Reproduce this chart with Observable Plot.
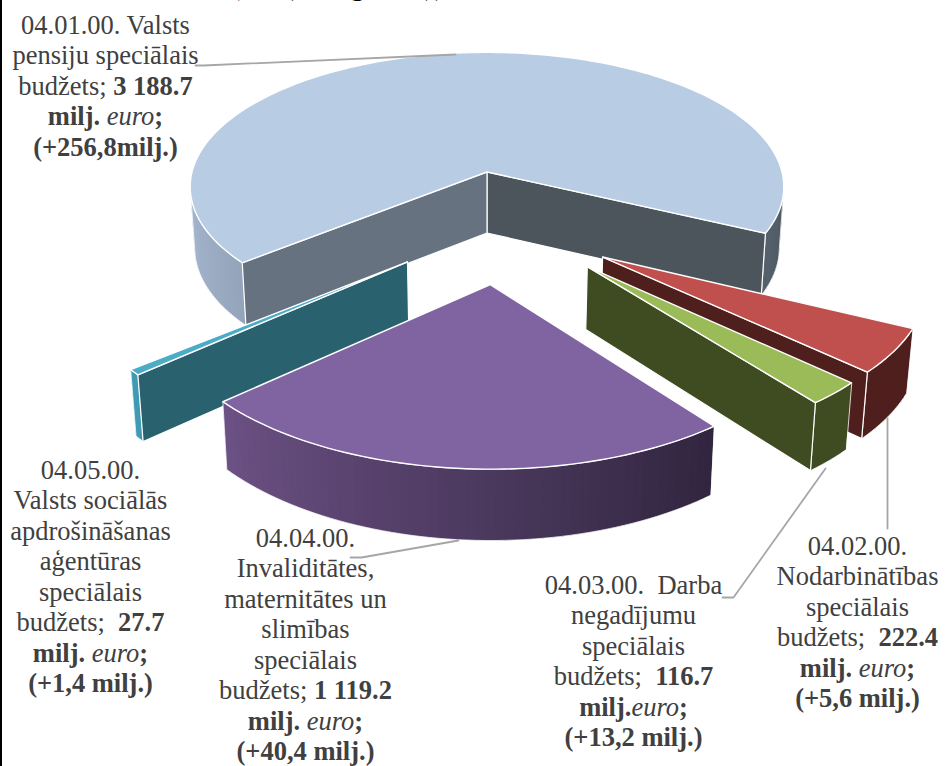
<!DOCTYPE html>
<html>
<head>
<meta charset="utf-8">
<script src="https://cdn.jsdelivr.net/npm/d3@7"></script>
<script src="https://cdn.jsdelivr.net/npm/@observablehq/plot@0.6"></script>
<style>html,body{margin:0;padding:0;background:#fff}svg{display:block}</style>
</head>
<body>
<div id="chart"></div>
<script>
// Data
const codes = ["04.01.00.", "04.02.00.", "04.03.00.", "04.04.00.", "04.05.00."];
const values = [3188.7, 222.4, 116.7, 1119.2, 27.7];

// Colours per slice
const topColors = ["#b8cce4", "#c0504d", "#9bbb59", "#8064a2", "#4bacc6"];
const wallHigh = ["#a6b8d0", "#4f1f1d", "#3f4b21", "#6c5185", "#3f9ab3"];
const wallLow = ["#4b5761", "#4f1f1d", "#3f4b21", "#30253e", "#3f9ab3"];
const startFace = ["#66727f", null, null, null, "#2a616e"];
const endFace = ["#4c545c", "#4f1f1d", "#3f4b21", null, null];

// Pie view settings (3-D pie: rotation, tilt, perspective, explosion)
const firstAngle = 140.5, radius = 295, tilt = 0.45, persp = 0.11, centerX = 486.5, centerY = 171.5;
const explodeX = [0, 108, 93, 3, -74];
const explodeY = [0, 176.5, 195, 229, 186];
const radiusScale = [1, 1.015, 1.01, 1.02, 1.02];
const drawOrder = [0, 4, 1, 2, 3];

// Label text
const labelLines = [
  ["04.01.00. Valsts", "pensiju speciālais", "budžets; **3 188.7**", "**milj.** _euro_**;**", "**(+256,8milj.)**"],
  ["04.02.00.", "Nodarbinātības", "speciālais", "budžets;\u00a0 **222.4**", "**milj.** _euro_**;**", "**(+5,6 milj.)**"],
  ["04.03.00.\u00a0 Darba", "negadījumu", "speciālais", "budžets;\u00a0 **116.7**", "**milj.**_euro_**;**", "**(+13,2 milj.)**"],
  ["04.04.00.", "Invaliditātes,", "maternitātes un", "slimības", "speciālais", "budžets; **1 119.2**", "**milj.** _euro_**;**", "**(+40,4 milj.)**"],
  ["04.05.00.", "Valsts sociālās", "apdrošināšanas", "aģentūras", "speciālais", "budžets;\u00a0 **27.7**", "**milj.** _euro_**;**", "**(+1,4 milj.)**"]
];
const labelX = [105, 857, 633, 305, 90];
const labelY = [33, 554, 593, 546, 478];
const lineStep = 30.5;

// Leader lines from slice to label
const leaders = [
  [[455, 54], [203, 65], [195, 65]],
  [[887, 418], [887, 528]],
  [[825, 468], [733, 597], [722, 597]],
  [[458, 540], [361, 557], [350, 557]]
];

// Cropped title remnants at the very top of the picture
const titleGlyphs = ["(", ")", "g", ")", ")"];
const titleGlyphX = [235, 295, 357, 429, 439];

// Geometry from the values
const total = d3.sum(values);
let running = firstAngle;
const slices = values.map((v, i) => {
  const start = running;
  running += v / total * 360;
  return {i, start, end: running};
});
const rad = a => a * Math.PI / 180;
function pt(i, a, r, bottom) {
  const rr = r * radiusScale[i];
  const X = explodeX[i] + rr * Math.cos(rad(a));
  const Y = explodeY[i] + rr * Math.sin(rad(a));
  const p = 1 / (1 - persp * Y / radius);
  if (!bottom) return {x: centerX + X * p, y: centerY + tilt * Y * p};
  const e = p - 1;
  return {x: centerX + 0.985 * X * p, y: centerY + tilt * Y * p + 61 + 15 * e + 110 * e * e};
}
function angles(a0, a1) {
  const out = [], n = Math.max(1, Math.ceil((a1 - a0) / 1.5));
  for (let k = 0; k <= n; k++) out.push(a0 + (a1 - a0) * k / n);
  return out;
}
const silhouette = Math.sin(rad(6.4));

const marks = [];
const common = {x: "x", y: "y", curve: "linear-closed"};
for (const oi of drawOrder) {
  const s = slices[oi], i = s.i;
  const as = angles(s.start, s.end);
  // outer wall strips (front facing only); each strip overlaps the next so no seams show
  const front = as.filter(a => Math.sin(rad(a)) > silhouette);
  const mods = front.map(a => ((a % 360) + 360) % 360);
  const lo = d3.min(mods), hi = d3.max(mods);
  const col = d3.scaleLinear().domain([lo, hi]).range([wallLow[i], wallHigh[i]]).clamp(true);
  const strips = [];
  const outlines = [];
  let run = [], runs = [];
  for (const a of as) {
    if (Math.sin(rad(a)) > silhouette) run.push(a);
    else if (run.length) { runs.push(run); run = []; }
  }
  if (run.length) runs.push(run);
  runs.forEach((rn, ri) => {
    for (let k = 0; k + 1 < rn.length; k++) {
      const a0 = rn[k], a1 = rn[Math.min(k + 2, rn.length - 1)], aMid = (rn[k] + rn[k + 1]) / 2;
      const c = col((aMid % 360 + 360) % 360);
      const id = `${i}-${ri}-${k}`;
      for (const q of [pt(i, a0, radius), pt(i, a1, radius), pt(i, a1, radius, true), pt(i, a0, radius, true)])
        strips.push({...q, id, c});
    }
    const id = `${i}-${ri}`;
    for (const a of rn) outlines.push({...pt(i, a, radius), id});
    for (const a of [...rn].reverse()) outlines.push({...pt(i, a, radius, true), id});
  });
  marks.push(Plot.line(strips, {...common, z: "id", fill: "c", stroke: "none"}));
  marks.push(Plot.line(outlines, {...common, z: "id", stroke: "#fff", strokeWidth: 0.8}));
  // radial faces
  const faces = [];
  if (endFace[i]) for (const q of [pt(i, 0, 0), pt(i, s.end, radius), pt(i, s.end, radius, true), pt(i, 0, 0, true)]) faces.push({...q, id: "e", c: endFace[i]});
  if (startFace[i]) for (const q of [pt(i, 0, 0), pt(i, s.start, radius), pt(i, s.start, radius, true), pt(i, 0, 0, true)]) faces.push({...q, id: "s", c: startFace[i]});
  if (faces.length) marks.push(Plot.line(faces, {...common, z: "id", fill: "c", stroke: "#fff", strokeWidth: 1.2}));
  // top surface
  const top = [pt(i, 0, 0), ...as.map(a => pt(i, a, radius))];
  marks.push(Plot.line(top, {...common, fill: topColors[i], stroke: "#fff", strokeWidth: 1.4}));
}

const leaderRows = leaders.flatMap((l, id) => l.map(([x, y]) => ({x, y, id})));
const textRows = labelLines.flatMap((lines, i) => lines.map((text, k) => ({text, x: labelX[i], y: labelY[i] + k * lineStep})));
const glyphRows = titleGlyphs.map((text, k) => ({text, x: titleGlyphX[k], y: -6}));
const serif = "Liberation Serif, Times New Roman, serif";

const svg = Plot.plot({
  width: 945, height: 766, margin: 0,
  style: {background: "#fff"},
  x: {domain: [0, 945], range: [0, 945], axis: null},
  y: {domain: [0, 766], range: [0, 766], axis: null},
  marks: [
    ...marks,
    Plot.line(leaderRows, {x: "x", y: "y", z: "id", stroke: "#a6a6a6", strokeWidth: 1.8, curve: "linear"}),
    Plot.text(textRows, {x: "x", y: "y", text: "text", lineAnchor: "bottom", textAnchor: "middle", fontFamily: serif, fontSize: 26.5, fill: "#404040", lineWidth: 100}),
    Plot.text(glyphRows, {x: "x", y: "y", text: "text", lineAnchor: "bottom", textAnchor: "middle", fontFamily: serif, fontSize: 27, fontWeight: "bold", fill: "#000"}),
    Plot.ruleX([0], {stroke: "#000", strokeWidth: 3})
  ]
});

// Mixed weight runs inside a label line
const NS = "http://www.w3.org/2000/svg";
svg.querySelectorAll("text").forEach(t => {
  const raw = t.textContent;
  if (!/\*\*|_/.test(raw)) return;
  t.textContent = "";
  raw.split(/(\*\*[^*]+\*\*|_[^_]+_)/).filter(Boolean).forEach(part => {
    const span = document.createElementNS(NS, "tspan");
    if (part.startsWith("**")) { span.setAttribute("font-weight", "bold"); span.textContent = part.slice(2, -2); }
    else if (part.startsWith("_")) { span.setAttribute("font-style", "italic"); span.textContent = part.slice(1, -1); }
    else span.textContent = part;
    t.appendChild(span);
  });
});
document.getElementById("chart").appendChild(svg);
</script>
</body>
</html>
